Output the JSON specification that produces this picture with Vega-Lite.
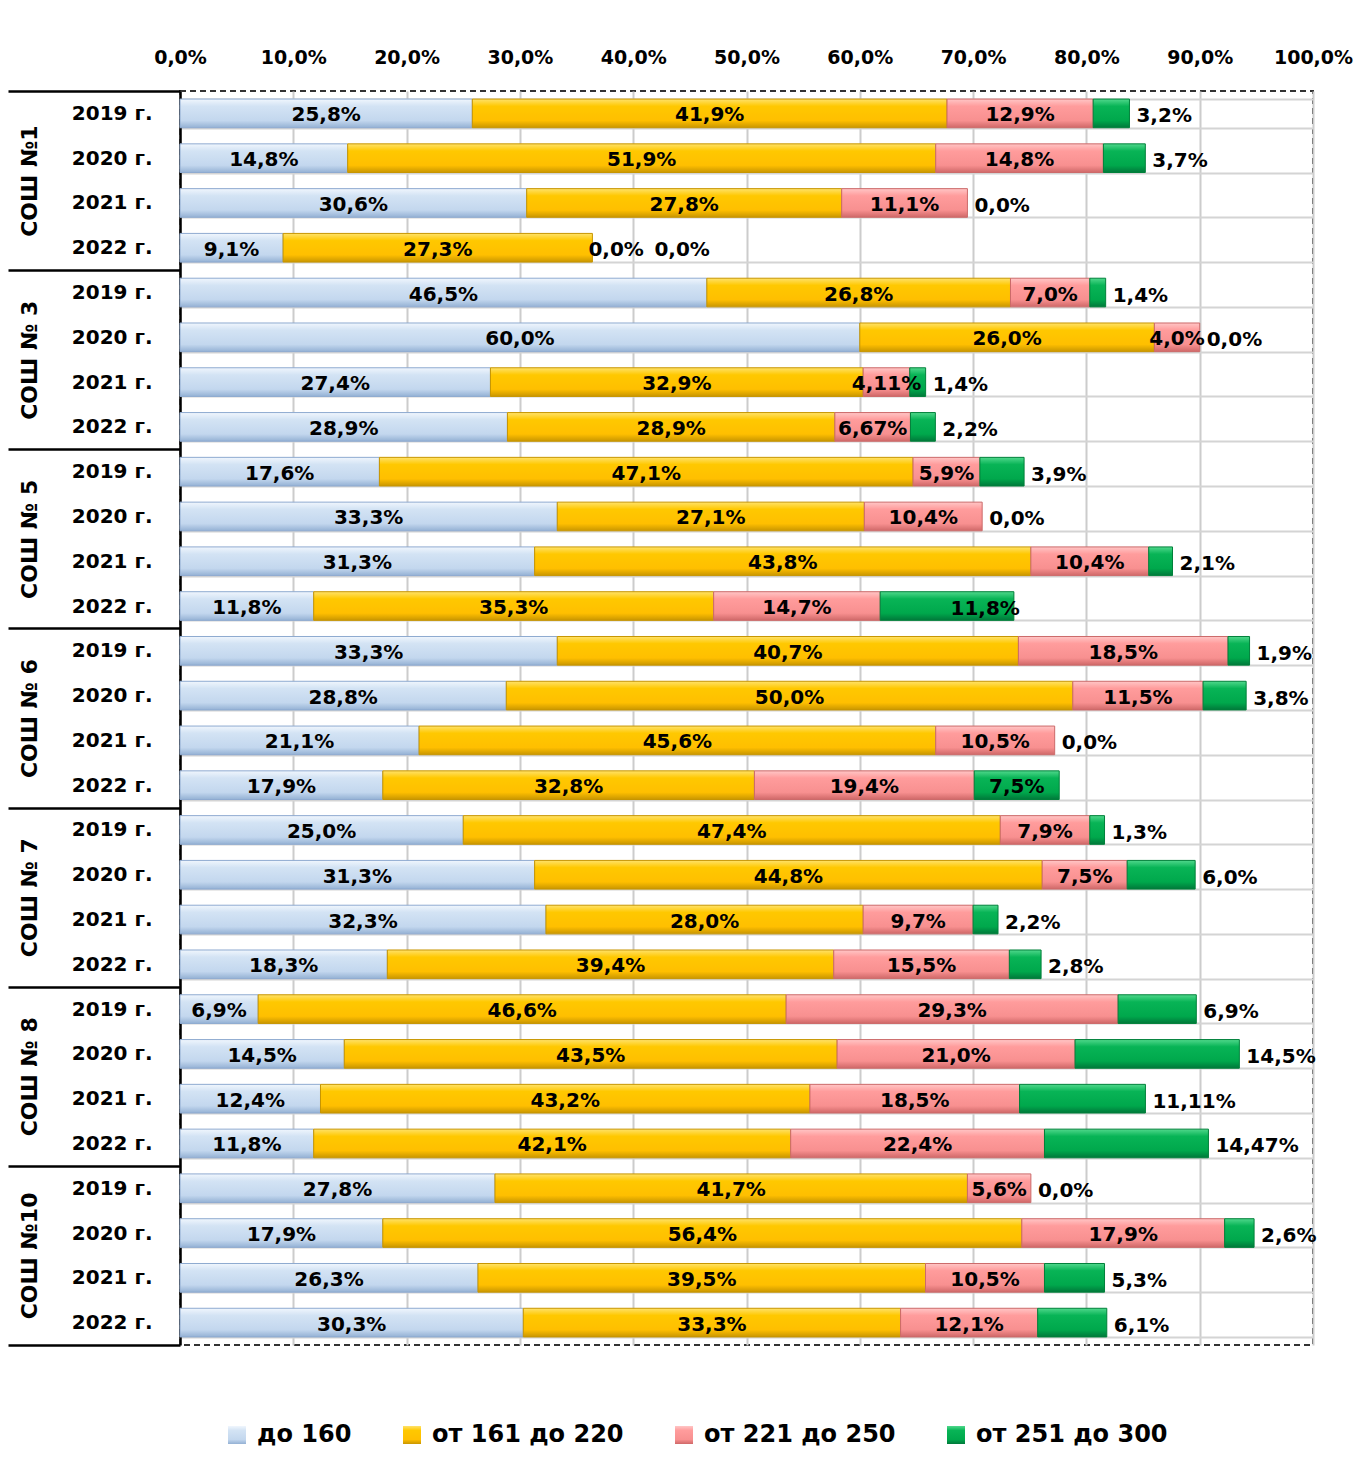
{
"$schema": "https://vega.github.io/schema/vega-lite/v6.json",
"width": 1133, "height": 1254,
"autosize": {"type": "none"},
"padding": {"left": 180, "top": 91, "right": 45, "bottom": 127},
"background": "white",
"config": {
  "font": "DejaVu Sans",
  "view": {"stroke": "#333333", "strokeWidth": 2, "strokeDash": [6, 4]},
  "axis": {"labelFont": "DejaVu Sans", "labelFontWeight": "bold", "labelColor": "black", "title": null}
},
"data": {"values": [
{"school":"СОШ №1","key":"СОШ №1|2019 г.","range":"до 160","pct":25.8,"label":"25,8%"},
{"school":"СОШ №1","key":"СОШ №1|2019 г.","range":"от 161 до 220","pct":41.9,"label":"41,9%"},
{"school":"СОШ №1","key":"СОШ №1|2019 г.","range":"от 221 до 250","pct":12.9,"label":"12,9%"},
{"school":"СОШ №1","key":"СОШ №1|2019 г.","range":"от 251 до 300","pct":3.2,"label":"3,2%"},
{"school":"СОШ №1","key":"СОШ №1|2020 г.","range":"до 160","pct":14.8,"label":"14,8%"},
{"school":"СОШ №1","key":"СОШ №1|2020 г.","range":"от 161 до 220","pct":51.9,"label":"51,9%"},
{"school":"СОШ №1","key":"СОШ №1|2020 г.","range":"от 221 до 250","pct":14.8,"label":"14,8%"},
{"school":"СОШ №1","key":"СОШ №1|2020 г.","range":"от 251 до 300","pct":3.7,"label":"3,7%"},
{"school":"СОШ №1","key":"СОШ №1|2021 г.","range":"до 160","pct":30.6,"label":"30,6%"},
{"school":"СОШ №1","key":"СОШ №1|2021 г.","range":"от 161 до 220","pct":27.8,"label":"27,8%"},
{"school":"СОШ №1","key":"СОШ №1|2021 г.","range":"от 221 до 250","pct":11.1,"label":"11,1%"},
{"school":"СОШ №1","key":"СОШ №1|2021 г.","range":"от 251 до 300","pct":0,"label":"0,0%"},
{"school":"СОШ №1","key":"СОШ №1|2022 г.","range":"до 160","pct":9.1,"label":"9,1%"},
{"school":"СОШ №1","key":"СОШ №1|2022 г.","range":"от 161 до 220","pct":27.3,"label":"27,3%"},
{"school":"СОШ №1","key":"СОШ №1|2022 г.","range":"от 221 до 250","pct":0,"label":"0,0%"},
{"school":"СОШ №1","key":"СОШ №1|2022 г.","range":"от 251 до 300","pct":0,"label":"0,0%"},
{"school":"СОШ № 3","key":"СОШ № 3|2019 г.","range":"до 160","pct":46.5,"label":"46,5%"},
{"school":"СОШ № 3","key":"СОШ № 3|2019 г.","range":"от 161 до 220","pct":26.8,"label":"26,8%"},
{"school":"СОШ № 3","key":"СОШ № 3|2019 г.","range":"от 221 до 250","pct":7.0,"label":"7,0%"},
{"school":"СОШ № 3","key":"СОШ № 3|2019 г.","range":"от 251 до 300","pct":1.4,"label":"1,4%"},
{"school":"СОШ № 3","key":"СОШ № 3|2020 г.","range":"до 160","pct":60.0,"label":"60,0%"},
{"school":"СОШ № 3","key":"СОШ № 3|2020 г.","range":"от 161 до 220","pct":26.0,"label":"26,0%"},
{"school":"СОШ № 3","key":"СОШ № 3|2020 г.","range":"от 221 до 250","pct":4.0,"label":"4,0%"},
{"school":"СОШ № 3","key":"СОШ № 3|2020 г.","range":"от 251 до 300","pct":0,"label":"0,0%"},
{"school":"СОШ № 3","key":"СОШ № 3|2021 г.","range":"до 160","pct":27.4,"label":"27,4%"},
{"school":"СОШ № 3","key":"СОШ № 3|2021 г.","range":"от 161 до 220","pct":32.9,"label":"32,9%"},
{"school":"СОШ № 3","key":"СОШ № 3|2021 г.","range":"от 221 до 250","pct":4.11,"label":"4,11%"},
{"school":"СОШ № 3","key":"СОШ № 3|2021 г.","range":"от 251 до 300","pct":1.4,"label":"1,4%"},
{"school":"СОШ № 3","key":"СОШ № 3|2022 г.","range":"до 160","pct":28.9,"label":"28,9%"},
{"school":"СОШ № 3","key":"СОШ № 3|2022 г.","range":"от 161 до 220","pct":28.9,"label":"28,9%"},
{"school":"СОШ № 3","key":"СОШ № 3|2022 г.","range":"от 221 до 250","pct":6.67,"label":"6,67%"},
{"school":"СОШ № 3","key":"СОШ № 3|2022 г.","range":"от 251 до 300","pct":2.2,"label":"2,2%"},
{"school":"СОШ № 5","key":"СОШ № 5|2019 г.","range":"до 160","pct":17.6,"label":"17,6%"},
{"school":"СОШ № 5","key":"СОШ № 5|2019 г.","range":"от 161 до 220","pct":47.1,"label":"47,1%"},
{"school":"СОШ № 5","key":"СОШ № 5|2019 г.","range":"от 221 до 250","pct":5.9,"label":"5,9%"},
{"school":"СОШ № 5","key":"СОШ № 5|2019 г.","range":"от 251 до 300","pct":3.9,"label":"3,9%"},
{"school":"СОШ № 5","key":"СОШ № 5|2020 г.","range":"до 160","pct":33.3,"label":"33,3%"},
{"school":"СОШ № 5","key":"СОШ № 5|2020 г.","range":"от 161 до 220","pct":27.1,"label":"27,1%"},
{"school":"СОШ № 5","key":"СОШ № 5|2020 г.","range":"от 221 до 250","pct":10.4,"label":"10,4%"},
{"school":"СОШ № 5","key":"СОШ № 5|2020 г.","range":"от 251 до 300","pct":0,"label":"0,0%"},
{"school":"СОШ № 5","key":"СОШ № 5|2021 г.","range":"до 160","pct":31.3,"label":"31,3%"},
{"school":"СОШ № 5","key":"СОШ № 5|2021 г.","range":"от 161 до 220","pct":43.8,"label":"43,8%"},
{"school":"СОШ № 5","key":"СОШ № 5|2021 г.","range":"от 221 до 250","pct":10.4,"label":"10,4%"},
{"school":"СОШ № 5","key":"СОШ № 5|2021 г.","range":"от 251 до 300","pct":2.1,"label":"2,1%"},
{"school":"СОШ № 5","key":"СОШ № 5|2022 г.","range":"до 160","pct":11.8,"label":"11,8%"},
{"school":"СОШ № 5","key":"СОШ № 5|2022 г.","range":"от 161 до 220","pct":35.3,"label":"35,3%"},
{"school":"СОШ № 5","key":"СОШ № 5|2022 г.","range":"от 221 до 250","pct":14.7,"label":"14,7%"},
{"school":"СОШ № 5","key":"СОШ № 5|2022 г.","range":"от 251 до 300","pct":11.8,"label":"11,8%"},
{"school":"СОШ № 6","key":"СОШ № 6|2019 г.","range":"до 160","pct":33.3,"label":"33,3%"},
{"school":"СОШ № 6","key":"СОШ № 6|2019 г.","range":"от 161 до 220","pct":40.7,"label":"40,7%"},
{"school":"СОШ № 6","key":"СОШ № 6|2019 г.","range":"от 221 до 250","pct":18.5,"label":"18,5%"},
{"school":"СОШ № 6","key":"СОШ № 6|2019 г.","range":"от 251 до 300","pct":1.9,"label":"1,9%"},
{"school":"СОШ № 6","key":"СОШ № 6|2020 г.","range":"до 160","pct":28.8,"label":"28,8%"},
{"school":"СОШ № 6","key":"СОШ № 6|2020 г.","range":"от 161 до 220","pct":50.0,"label":"50,0%"},
{"school":"СОШ № 6","key":"СОШ № 6|2020 г.","range":"от 221 до 250","pct":11.5,"label":"11,5%"},
{"school":"СОШ № 6","key":"СОШ № 6|2020 г.","range":"от 251 до 300","pct":3.8,"label":"3,8%"},
{"school":"СОШ № 6","key":"СОШ № 6|2021 г.","range":"до 160","pct":21.1,"label":"21,1%"},
{"school":"СОШ № 6","key":"СОШ № 6|2021 г.","range":"от 161 до 220","pct":45.6,"label":"45,6%"},
{"school":"СОШ № 6","key":"СОШ № 6|2021 г.","range":"от 221 до 250","pct":10.5,"label":"10,5%"},
{"school":"СОШ № 6","key":"СОШ № 6|2021 г.","range":"от 251 до 300","pct":0,"label":"0,0%"},
{"school":"СОШ № 6","key":"СОШ № 6|2022 г.","range":"до 160","pct":17.9,"label":"17,9%"},
{"school":"СОШ № 6","key":"СОШ № 6|2022 г.","range":"от 161 до 220","pct":32.8,"label":"32,8%"},
{"school":"СОШ № 6","key":"СОШ № 6|2022 г.","range":"от 221 до 250","pct":19.4,"label":"19,4%"},
{"school":"СОШ № 6","key":"СОШ № 6|2022 г.","range":"от 251 до 300","pct":7.5,"label":"7,5%"},
{"school":"СОШ № 7","key":"СОШ № 7|2019 г.","range":"до 160","pct":25.0,"label":"25,0%"},
{"school":"СОШ № 7","key":"СОШ № 7|2019 г.","range":"от 161 до 220","pct":47.4,"label":"47,4%"},
{"school":"СОШ № 7","key":"СОШ № 7|2019 г.","range":"от 221 до 250","pct":7.9,"label":"7,9%"},
{"school":"СОШ № 7","key":"СОШ № 7|2019 г.","range":"от 251 до 300","pct":1.3,"label":"1,3%"},
{"school":"СОШ № 7","key":"СОШ № 7|2020 г.","range":"до 160","pct":31.3,"label":"31,3%"},
{"school":"СОШ № 7","key":"СОШ № 7|2020 г.","range":"от 161 до 220","pct":44.8,"label":"44,8%"},
{"school":"СОШ № 7","key":"СОШ № 7|2020 г.","range":"от 221 до 250","pct":7.5,"label":"7,5%"},
{"school":"СОШ № 7","key":"СОШ № 7|2020 г.","range":"от 251 до 300","pct":6.0,"label":"6,0%"},
{"school":"СОШ № 7","key":"СОШ № 7|2021 г.","range":"до 160","pct":32.3,"label":"32,3%"},
{"school":"СОШ № 7","key":"СОШ № 7|2021 г.","range":"от 161 до 220","pct":28.0,"label":"28,0%"},
{"school":"СОШ № 7","key":"СОШ № 7|2021 г.","range":"от 221 до 250","pct":9.7,"label":"9,7%"},
{"school":"СОШ № 7","key":"СОШ № 7|2021 г.","range":"от 251 до 300","pct":2.2,"label":"2,2%"},
{"school":"СОШ № 7","key":"СОШ № 7|2022 г.","range":"до 160","pct":18.3,"label":"18,3%"},
{"school":"СОШ № 7","key":"СОШ № 7|2022 г.","range":"от 161 до 220","pct":39.4,"label":"39,4%"},
{"school":"СОШ № 7","key":"СОШ № 7|2022 г.","range":"от 221 до 250","pct":15.5,"label":"15,5%"},
{"school":"СОШ № 7","key":"СОШ № 7|2022 г.","range":"от 251 до 300","pct":2.8,"label":"2,8%"},
{"school":"СОШ № 8","key":"СОШ № 8|2019 г.","range":"до 160","pct":6.9,"label":"6,9%"},
{"school":"СОШ № 8","key":"СОШ № 8|2019 г.","range":"от 161 до 220","pct":46.6,"label":"46,6%"},
{"school":"СОШ № 8","key":"СОШ № 8|2019 г.","range":"от 221 до 250","pct":29.3,"label":"29,3%"},
{"school":"СОШ № 8","key":"СОШ № 8|2019 г.","range":"от 251 до 300","pct":6.9,"label":"6,9%"},
{"school":"СОШ № 8","key":"СОШ № 8|2020 г.","range":"до 160","pct":14.5,"label":"14,5%"},
{"school":"СОШ № 8","key":"СОШ № 8|2020 г.","range":"от 161 до 220","pct":43.5,"label":"43,5%"},
{"school":"СОШ № 8","key":"СОШ № 8|2020 г.","range":"от 221 до 250","pct":21.0,"label":"21,0%"},
{"school":"СОШ № 8","key":"СОШ № 8|2020 г.","range":"от 251 до 300","pct":14.5,"label":"14,5%"},
{"school":"СОШ № 8","key":"СОШ № 8|2021 г.","range":"до 160","pct":12.4,"label":"12,4%"},
{"school":"СОШ № 8","key":"СОШ № 8|2021 г.","range":"от 161 до 220","pct":43.2,"label":"43,2%"},
{"school":"СОШ № 8","key":"СОШ № 8|2021 г.","range":"от 221 до 250","pct":18.5,"label":"18,5%"},
{"school":"СОШ № 8","key":"СОШ № 8|2021 г.","range":"от 251 до 300","pct":11.11,"label":"11,11%"},
{"school":"СОШ № 8","key":"СОШ № 8|2022 г.","range":"до 160","pct":11.8,"label":"11,8%"},
{"school":"СОШ № 8","key":"СОШ № 8|2022 г.","range":"от 161 до 220","pct":42.1,"label":"42,1%"},
{"school":"СОШ № 8","key":"СОШ № 8|2022 г.","range":"от 221 до 250","pct":22.4,"label":"22,4%"},
{"school":"СОШ № 8","key":"СОШ № 8|2022 г.","range":"от 251 до 300","pct":14.47,"label":"14,47%"},
{"school":"СОШ №10","key":"СОШ №10|2019 г.","range":"до 160","pct":27.8,"label":"27,8%"},
{"school":"СОШ №10","key":"СОШ №10|2019 г.","range":"от 161 до 220","pct":41.7,"label":"41,7%"},
{"school":"СОШ №10","key":"СОШ №10|2019 г.","range":"от 221 до 250","pct":5.6,"label":"5,6%"},
{"school":"СОШ №10","key":"СОШ №10|2019 г.","range":"от 251 до 300","pct":0,"label":"0,0%"},
{"school":"СОШ №10","key":"СОШ №10|2020 г.","range":"до 160","pct":17.9,"label":"17,9%"},
{"school":"СОШ №10","key":"СОШ №10|2020 г.","range":"от 161 до 220","pct":56.4,"label":"56,4%"},
{"school":"СОШ №10","key":"СОШ №10|2020 г.","range":"от 221 до 250","pct":17.9,"label":"17,9%"},
{"school":"СОШ №10","key":"СОШ №10|2020 г.","range":"от 251 до 300","pct":2.6,"label":"2,6%"},
{"school":"СОШ №10","key":"СОШ №10|2021 г.","range":"до 160","pct":26.3,"label":"26,3%"},
{"school":"СОШ №10","key":"СОШ №10|2021 г.","range":"от 161 до 220","pct":39.5,"label":"39,5%"},
{"school":"СОШ №10","key":"СОШ №10|2021 г.","range":"от 221 до 250","pct":10.5,"label":"10,5%"},
{"school":"СОШ №10","key":"СОШ №10|2021 г.","range":"от 251 до 300","pct":5.3,"label":"5,3%"},
{"school":"СОШ №10","key":"СОШ №10|2022 г.","range":"до 160","pct":30.3,"label":"30,3%"},
{"school":"СОШ №10","key":"СОШ №10|2022 г.","range":"от 161 до 220","pct":33.3,"label":"33,3%"},
{"school":"СОШ №10","key":"СОШ №10|2022 г.","range":"от 221 до 250","pct":12.1,"label":"12,1%"},
{"school":"СОШ №10","key":"СОШ №10|2022 г.","range":"от 251 до 300","pct":6.1,"label":"6,1%"}
]},
"resolve": {"scale": {"y": "independent"}, "axis": {"y": "independent"}},
"layer": [
  {
    "transform": [
      {"stack": "pct", "groupby": ["key"], "sort": [{"field": "range", "order": "ascending"}], "as": ["x0", "x1"]},
      {"calculate": "(datum.x0 + datum.x1) / 2", "as": "xm"}
    ],
    "encoding": {
      "y": {"field": "key", "type": "nominal", "sort": null,
        "scale": {"type": "band", "paddingInner": 0.36, "paddingOuter": 0.18},
        "axis": {"orient": "left", "domain": true, "domainColor": "black", "domainWidth": 2.5,
          "ticks": false, "grid": true, "tickBand": "extent", "gridColor": "#d4d4d4", "gridWidth": 2,
          "labelPadding": 28, "labelFontSize": 20, "labelOverlap": false,
          "labelExpr": "split(datum.value, '|')[1]"}}
    },
    "layer": [
      {
        "transform": [{"filter": "datum.pct > 0"}],
        "mark": {"type": "bar", "strokeWidth": 1},
        "encoding": {
          "x": {"field": "x0", "type": "quantitative",
            "scale": {"domain": [0, 100], "nice": false},
            "axis": {"orient": "top", "values": [0,10,20,30,40,50,60,70,80,90,100],
              "labelExpr": "replace(format(datum.value, '.1f'), '.', ',') + '%'",
              "domain": false, "ticks": false, "grid": true, "gridColor": "#cccccc", "gridWidth": 2,
              "labelPadding": 24, "labelFontSize": 19, "labelFlush": false, "labelOverlap": false}},
          "x2": {"field": "x1"},
          "color": {"field": "range", "type": "nominal",
            "scale": {"domain": ["до 160", "от 161 до 220", "от 221 до 250", "от 251 до 300"],
              "range": [
                {"expr": "{gradient:'linear',x1:0,y1:0,x2:0,y2:1,stops:[{offset:0,color:'#f0f6fd'},{offset:0.25,color:'#d3e3f4'},{offset:0.75,color:'#c3d7ee'},{offset:1,color:'#94b1d4'}]}"},
                {"expr": "{gradient:'linear',x1:0,y1:0,x2:0,y2:1,stops:[{offset:0,color:'#ffe26a'},{offset:0.25,color:'#ffc800'},{offset:0.75,color:'#ffbf00'},{offset:1,color:'#c99600'}]}"},
                {"expr": "{gradient:'linear',x1:0,y1:0,x2:0,y2:1,stops:[{offset:0,color:'#ffc6c6'},{offset:0.25,color:'#ff9c9c'},{offset:0.75,color:'#f89090'},{offset:1,color:'#cf6868'}]}"},
                {"expr": "{gradient:'linear',x1:0,y1:0,x2:0,y2:1,stops:[{offset:0,color:'#50d88c'},{offset:0.25,color:'#08b456'},{offset:0.75,color:'#00a84c'},{offset:1,color:'#00783a'}]}"}
              ]},
            "legend": {"orient": "none", "legendX": 45, "legendY": 1332, "direction": "horizontal",
              "title": null, "symbolType": "square", "symbolSize": 324, "symbolStrokeWidth": 0,
              "labelFontSize": 24, "labelFont": "DejaVu Sans", "labelFontWeight": "bold", "labelColor": "black",
              "columnPadding": 48, "labelOffset": 8, "padding": 0, "labelLimit": 0}},
          "stroke": {"field": "range", "type": "nominal",
            "scale": {"domain": ["до 160", "от 161 до 220", "от 221 до 250", "от 251 до 300"],
              "range": ["#8eaad0", "#c79500", "#cc6a6a", "#00803a"]},
            "legend": null}
        }
      },
      {
        "transform": [{"filter": "datum.range != 'от 251 до 300' && datum.pct > 0"}],
        "mark": {"type": "text", "font": "DejaVu Sans", "fontWeight": "bold", "fontSize": 20, "color": "black", "dy": 2},
        "encoding": {"x": {"field": "xm", "type": "quantitative"}, "text": {"field": "label"}}
      },
      {
        "transform": [{"filter": "datum.range == 'от 221 до 250' && datum.pct == 0"}],
        "mark": {"type": "text", "font": "DejaVu Sans", "fontWeight": "bold", "fontSize": 20, "color": "black", "align": "left", "dx": -4, "dy": 2},
        "encoding": {"x": {"field": "x1", "type": "quantitative"}, "text": {"field": "label"}}
      },
      {
        "transform": [{"filter": "datum.range == 'от 251 до 300' && datum.key != 'СОШ № 6|2022 г.' && datum.key != 'СОШ № 5|2022 г.' && datum.key != 'СОШ №1|2022 г.'"}],
        "mark": {"type": "text", "font": "DejaVu Sans", "fontWeight": "bold", "fontSize": 20, "color": "black", "align": "left", "dx": 7, "dy": 3},
        "encoding": {"x": {"field": "x1", "type": "quantitative"}, "text": {"field": "label"}}
      },
      {
        "transform": [{"filter": "datum.key == 'СОШ № 6|2022 г.' && datum.range == 'от 251 до 300'"}],
        "mark": {"type": "text", "font": "DejaVu Sans", "fontWeight": "bold", "fontSize": 20, "color": "black", "dy": 2},
        "encoding": {"x": {"field": "xm", "type": "quantitative"}, "text": {"field": "label"}}
      },
      {
        "transform": [{"filter": "datum.key == 'СОШ № 5|2022 г.' && datum.range == 'от 251 до 300'"}],
        "mark": {"type": "text", "font": "DejaVu Sans", "fontWeight": "bold", "fontSize": 20, "color": "black", "align": "right", "dx": 6, "dy": 3},
        "encoding": {"x": {"field": "x1", "type": "quantitative"}, "text": {"field": "label"}}
      },
      {
        "transform": [{"filter": "datum.key == 'СОШ №1|2022 г.' && datum.range == 'от 251 до 300'"}],
        "mark": {"type": "text", "font": "DejaVu Sans", "fontWeight": "bold", "fontSize": 20, "color": "black", "align": "left", "dx": 62, "dy": 2},
        "encoding": {"x": {"field": "x1", "type": "quantitative"}, "text": {"field": "label"}}
      }
    ]
  },
  {
    "mark": {"type": "rule", "opacity": 0},
    "encoding": {
      "y": {"field": "school", "type": "nominal", "sort": null,
        "scale": {"type": "band", "paddingInner": 0, "paddingOuter": 0},
        "axis": {"orient": "left", "domain": false, "ticks": true, "tickBand": "extent", "tickSize": 172,
          "tickColor": "black", "tickWidth": 2.5, "grid": false,
          "labelAngle": 270, "labelAlign": "center", "labelBaseline": "middle", "labelPadding": -21,
          "labelFontSize": 22, "labelOverlap": false, "labelLimit": 0}}
    }
  }
]
}
